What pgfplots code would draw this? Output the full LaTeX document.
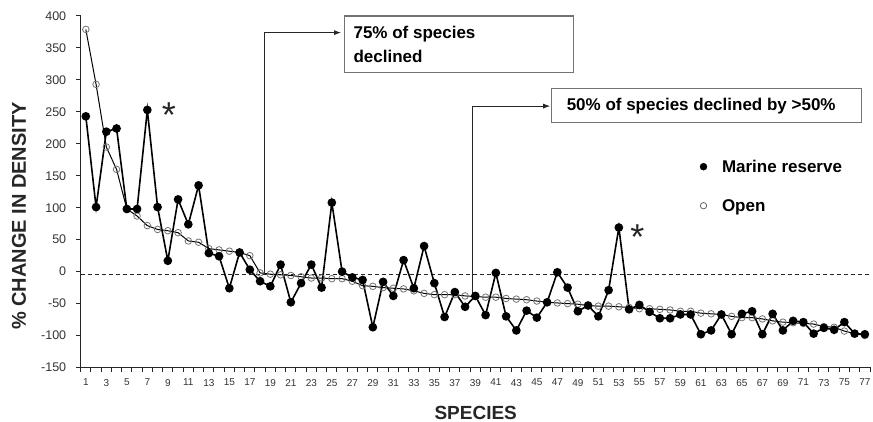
\documentclass[border=0pt]{standalone}
\usepackage{fontspec}
\setmainfont{Liberation Sans}
\usepackage{pgfplots}
\usepackage{pgfplotstable}
\pgfplotsset{compat=1.18}
\usetikzlibrary{arrows.meta}

% species, % change in density (marine reserve, open)
\pgfplotstableread{
sp marine open
1 243 379
2 101 293
3 219 195
4 224 160
5 98 98
6 98 87
7 253 72
8 101 66
9 17 64
10 113 61
11 74 48
12 135 46
13 29 36
14 24 34
15 -26 32
16 30 30
17 3 25
18 -15 -2
19 -23 -4
20 11 -5
21 -48 -6
22 -18 -8
23 11 -10
24 -25 -10
25 108 -11
26 0 -11
27 -9 -15
28 -13 -22
29 -87 -23
30 -16 -25
31 -38 -26
32 18 -27
33 -26 -30
34 40 -34
35 -18 -36
36 -71 -36
37 -32 -36
38 -55 -38
39 -38 -39
40 -68 -40
41 -2 -40
42 -70 -42
43 -92 -43
44 -61 -44
45 -72 -46
46 -48 -48
47 -1 -49
48 -25 -50
49 -62 -51
50 -53 -53
51 -70 -54
52 -29 -54
53 69 -55
54 -59 -56
55 -52 -58
56 -63 -58
57 -73 -59
58 -73 -60
59 -67 -62
60 -67 -62
61 -98 -65
62 -92 -66
63 -67 -67
64 -98 -70
65 -66 -72
66 -62 -72
67 -98 -74
68 -66 -77
69 -92 -79
70 -77 -80
71 -79 -81
72 -97 -82
73 -88 -86
74 -91 -87
75 -79 -93
76 -97 -97
77 -98 -100
}\densitydata

\begin{document}
\begin{tikzpicture}
\useasboundingbox (0,0) rectangle (873pt,422pt);
\begin{axis}[
    at={(80.7pt,54.5pt)}, anchor=south west,
    width=789.3pt, height=351.5pt, scale only axis,
    xmin=0.5, xmax=77.5, ymin=-150, ymax=400,
    axis x line*=bottom, axis y line*=left,
    axis line style={line width=1.3pt, black!85},
    tick align=outside,
    xtick={1,3,...,77},
    minor xtick={0.5,1.5,...,77.5},
    major x tick style={draw=none},
    minor x tick style={line width=1pt, black!85},
    minor tick length=5pt,
    major tick length=5pt,
    ytick={-150,-100,...,400},
    y tick style={line width=1pt, black!85},
    /pgf/number format/assume math mode=true,
    x tick label style={font=\fontsize{10}{10}\selectfont, text=black!80, yshift=-3pt},
    y tick label style={font=\fontsize{12.5}{12.5}\selectfont, text=black!80, xshift=-6pt},
    clip=false,
    legend style={draw=none, fill=none, at={(0.7844,0.5158)}, anchor=west,
        inner sep=0pt, column sep=15pt, row sep=27pt,
        font=\bfseries\fontsize{17}{17}\selectfont,
        nodes={inner sep=0pt, text height=12pt, text depth=0pt}},
    legend cell align=left,
    legend image code/.code={\draw[#1] plot coordinates {(0pt,0pt)};},
]
\draw[black!85, line width=0.9pt, dash pattern=on 4pt off 3pt] (axis cs:0.5,-4) -- (axis cs:77.5,-4);

\addplot[black, line width=1pt, mark=o, mark size=3.3pt,
    mark options={draw=black!55, line width=0.8pt}, forget plot]
    table[x=sp, y=open] {\densitydata};
\addplot[black, line width=1.6pt, mark=*, mark size=3.5pt, forget plot]
    table[x=sp, y=marine] {\densitydata};

\addlegendimage{only marks, mark=*, mark size=3.5pt, black}
\addlegendentry{Marine reserve}
\addlegendimage{only marks, mark=o, mark size=3.2pt, mark options={draw=black!60, line width=0.8pt}}
\addlegendentry{Open}

% annotations
\draw[black!85, line width=0.8pt, -{Latex[length=7pt,width=5pt]}]
    (axis cs:18.4,-4) |- (axis cs:25.9,374);
\draw[black!55, line width=1.1pt] (axis cs:26.2,400) rectangle (axis cs:48.6,311);
\node[anchor=west, align=left, font=\bfseries\fontsize{17}{24}\selectfont, inner sep=0pt]
    at (axis cs:27.1,355) {75\% of species\\declined};

\draw[black!85, line width=0.8pt, -{Latex[length=7pt,width=5pt]}]
    (axis cs:38.7,-37) |- (axis cs:46.3,259);
\draw[black!55, line width=1.1pt] (axis cs:46.4,286) rectangle (axis cs:76.7,233);
\node[anchor=west, font=\bfseries\fontsize{17}{17}\selectfont, inner sep=0pt]
    at (axis cs:47.9,259) {50\% of species declined by >50\%};

\node[font=\fontsize{36}{36}\selectfont, text=black!85] at (axis cs:9.1,245) {*};
\node[font=\fontsize{36}{36}\selectfont, text=black!85] at (axis cs:54.8,54) {*};
\end{axis}

\node[rotate=90, font=\bfseries\fontsize{20}{20}\selectfont, text=black!85] at (19pt,206pt) {\% CHANGE IN DENSITY};
\node[font=\bfseries\fontsize{19}{19}\selectfont, text=black!85] at (475.7pt,9pt) {SPECIES};
\end{tikzpicture}
\end{document}
